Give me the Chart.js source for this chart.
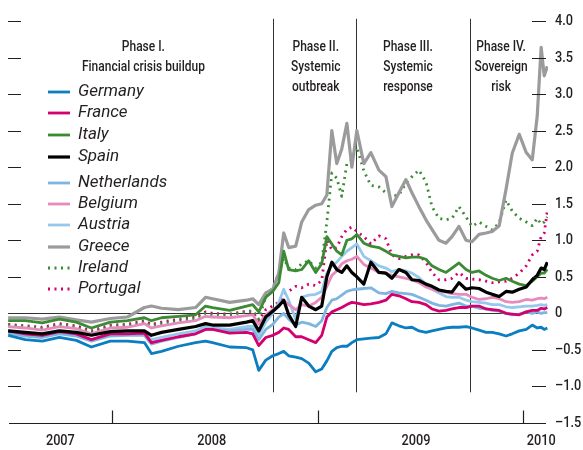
<!DOCTYPE html>
<html>
<head>
<meta charset="utf-8">
<script src="https://cdn.jsdelivr.net/npm/chart.js@4.4.1/dist/chart.umd.min.js"></script>
<style>
  html, body { margin: 0; padding: 0; background: #fff; }
</style>
</head>
<body>
<canvas id="chart" width="583" height="450"></canvas>
<script>
// x positions: months since 1 Jan 2007
const months = [5.91, 6.91, 7.90, 8.90, 9.89, 10.77, 11.88, 12.88, 13.87, 14.28, 14.87, 15.86, 16.86, 17.44, 17.85, 18.85, 19.84, 20.20, 20.55, 20.96,
  21.37, 21.72, 22.01, 22.30, 22.71, 23.06, 23.47, 23.88, 24.23, 24.53, 24.82, 25.11, 25.40, 25.70, 25.99, 26.28, 26.69, 27.10, 27.57, 27.98,
  28.33, 28.74, 29.15, 29.50, 29.91, 30.32, 30.67, 31.08, 31.49, 31.84, 32.25, 32.66, 33.01, 33.42, 33.83, 34.19, 34.60, 35.00, 35.36, 35.77,
  36.18, 36.53, 36.82, 37.05, 37.23, 37.41];

const germany = [-0.30, -0.36, -0.38, -0.33, -0.37, -0.46, -0.38, -0.38, -0.40, -0.55, -0.52, -0.45, -0.40, -0.38, -0.40, -0.46, -0.47, -0.50, -0.78, -0.64,
  -0.58, -0.55, -0.52, -0.58, -0.60, -0.62, -0.68, -0.80, -0.76, -0.65, -0.52, -0.47, -0.45, -0.45, -0.40, -0.36, -0.35, -0.34, -0.33, -0.28,
  -0.13, -0.17, -0.20, -0.19, -0.24, -0.26, -0.24, -0.22, -0.20, -0.19, -0.19, -0.18, -0.20, -0.23, -0.26, -0.26, -0.28, -0.31, -0.28, -0.24,
  -0.22, -0.16, -0.20, -0.19, -0.22, -0.20];
const france = [-0.24, -0.28, -0.30, -0.25, -0.28, -0.36, -0.28, -0.28, -0.27, -0.40, -0.37, -0.32, -0.28, -0.22, -0.22, -0.27, -0.26, -0.28, -0.44, -0.33,
  -0.30, -0.26, -0.20, -0.22, -0.32, -0.32, -0.36, -0.40, -0.30, -0.05, 0.02, 0.05, 0.08, 0.12, 0.15, 0.14, 0.12, 0.13, 0.15, 0.18,
  0.26, 0.24, 0.20, 0.16, 0.15, 0.12, 0.06, 0.03, 0.04, 0.06, 0.08, 0.08, 0.10, 0.10, 0.06, 0.05, 0.04, 0.00, -0.01, -0.02,
  0.02, 0.04, 0.04, 0.07, 0.06, 0.08];
const italy = [-0.10, -0.10, -0.13, -0.08, -0.12, -0.20, -0.12, -0.10, -0.06, -0.10, -0.06, -0.04, -0.02, 0.10, 0.08, 0.04, 0.10, 0.12, 0.02, 0.22,
  0.30, 0.42, 0.85, 0.60, 0.58, 0.60, 0.72, 0.56, 0.68, 1.05, 0.95, 0.85, 0.80, 1.00, 1.02, 1.08, 0.96, 0.92, 0.90, 0.85,
  0.80, 0.78, 0.76, 0.77, 0.77, 0.74, 0.65, 0.60, 0.56, 0.62, 0.69, 0.60, 0.56, 0.58, 0.52, 0.48, 0.45, 0.48, 0.44, 0.40,
  0.38, 0.44, 0.50, 0.55, 0.55, 0.60];
const spain = [-0.24, -0.26, -0.28, -0.24, -0.26, -0.30, -0.25, -0.24, -0.24, -0.30, -0.26, -0.22, -0.18, -0.14, -0.16, -0.16, -0.12, -0.10, -0.24, -0.05,
  0.03, 0.10, 0.18, -0.02, -0.18, 0.22, 0.10, 0.05, 0.10, 0.50, 0.70, 0.60, 0.56, 0.65, 0.56, 0.50, 0.40, 0.70, 0.56, 0.55,
  0.48, 0.60, 0.56, 0.46, 0.45, 0.40, 0.37, 0.32, 0.30, 0.29, 0.42, 0.33, 0.35, 0.34, 0.29, 0.26, 0.23, 0.30, 0.29, 0.33,
  0.36, 0.46, 0.52, 0.62, 0.60, 0.70];
const netherlands = [-0.27, -0.31, -0.33, -0.28, -0.31, -0.38, -0.31, -0.30, -0.30, -0.42, -0.38, -0.33, -0.28, -0.22, -0.22, -0.24, -0.22, -0.22, -0.36, -0.22,
  -0.15, -0.05, 0.00, -0.08, -0.16, -0.12, -0.14, -0.18, -0.10, 0.08, 0.18, 0.20, 0.25, 0.30, 0.32, 0.33, 0.34, 0.35, 0.28, 0.27,
  0.30, 0.28, 0.27, 0.26, 0.22, 0.18, 0.14, 0.11, 0.10, 0.12, 0.14, 0.10, 0.10, 0.07, 0.06, 0.04, 0.03, 0.00, -0.02, -0.01,
  0.02, 0.00, 0.02, 0.00, 0.01, 0.01];
const belgium = [-0.18, -0.20, -0.23, -0.18, -0.21, -0.28, -0.20, -0.19, -0.14, -0.20, -0.17, -0.13, -0.10, -0.04, -0.05, -0.06, -0.03, -0.02, -0.15, -0.02,
  0.05, 0.10, 0.18, 0.12, 0.05, 0.12, 0.10, 0.15, 0.22, 0.37, 0.52, 0.58, 0.68, 0.72, 0.74, 0.78, 0.67, 0.62, 0.56, 0.55,
  0.52, 0.50, 0.48, 0.46, 0.42, 0.36, 0.33, 0.30, 0.29, 0.27, 0.26, 0.26, 0.22, 0.19, 0.20, 0.22, 0.20, 0.16, 0.15, 0.16,
  0.19, 0.18, 0.20, 0.21, 0.20, 0.22];
const austria = [-0.26, -0.29, -0.31, -0.27, -0.29, -0.36, -0.29, -0.28, -0.26, -0.36, -0.33, -0.28, -0.24, -0.18, -0.20, -0.22, -0.18, -0.18, -0.30, -0.12,
  0.00, 0.15, 0.33, 0.18, -0.08, 0.22, 0.25, 0.26, 0.30, 0.55, 0.65, 0.70, 0.78, 0.85, 0.90, 0.95, 0.78, 0.72, 0.65, 0.62,
  0.57, 0.60, 0.58, 0.55, 0.49, 0.40, 0.33, 0.28, 0.23, 0.22, 0.22, 0.18, 0.16, 0.15, 0.14, 0.12, 0.12, 0.09, 0.08, 0.09,
  0.10, 0.10, 0.11, 0.12, 0.11, 0.12];
const greece = [-0.06, -0.06, -0.08, -0.05, -0.09, -0.12, -0.07, -0.05, 0.08, 0.10, 0.07, 0.05, 0.08, 0.22, 0.20, 0.15, 0.18, 0.20, 0.12, 0.28,
  0.33, 0.55, 1.10, 0.90, 0.92, 1.25, 1.42, 1.48, 1.50, 1.62, 2.50, 2.05, 2.25, 2.60, 2.00, 2.50, 2.05, 2.20, 1.96, 1.87,
  1.46, 1.65, 1.83, 1.65, 1.46, 1.28, 1.15, 1.00, 0.96, 1.05, 1.19, 1.00, 0.98, 1.08, 1.10, 1.12, 1.20, 1.70, 2.19, 2.45,
  2.20, 2.10, 2.70, 3.64, 3.25, 3.38];
const ireland = [-0.16, -0.18, -0.21, -0.16, -0.19, -0.26, -0.18, -0.17, -0.12, -0.17, -0.14, -0.10, -0.07, 0.00, -0.02, -0.02, 0.02, 0.04, -0.08, 0.23,
  0.35, 0.55, 0.75, 0.62, 0.60, 0.68, 0.72, 0.62, 0.70, 1.25, 1.92, 1.85, 1.60, 2.05, 2.10, 2.28, 1.95, 1.75, 1.73, 1.65,
  1.60, 1.62, 1.78, 1.87, 1.96, 1.80, 1.46, 1.30, 1.28, 1.30, 1.46, 1.32, 1.19, 1.25, 1.19, 1.14, 1.24, 1.55, 1.40, 1.30,
  1.25, 1.20, 1.30, 1.22, 1.25, 1.32];
const portugal = [-0.15, -0.17, -0.19, -0.14, -0.17, -0.24, -0.16, -0.15, -0.10, -0.15, -0.12, -0.08, -0.05, 0.02, 0.00, -0.01, 0.03, 0.02, -0.10, 0.05,
  0.10, 0.15, 0.25, 0.30, 0.37, 0.35, 0.40, 0.38, 0.45, 1.00, 0.87, 0.90, 1.05, 1.15, 1.18, 1.12, 1.05, 0.95, 1.06, 1.02,
  0.80, 0.75, 0.78, 0.80, 0.80, 0.70, 0.56, 0.46, 0.46, 0.48, 0.56, 0.48, 0.47, 0.46, 0.44, 0.42, 0.43, 0.44, 0.48, 0.55,
  0.65, 0.80, 0.85, 1.05, 1.10, 1.40];

const yTicks = [4.0, 3.5, 3.0, 2.5, 2.0, 1.5, 1.0, 0.5, 0, -0.5, -1.0, -1.5];
const yearBounds = [12, 24, 36];
const yearLabels = ['2007', '2008', '2009', '2010'];
const yearLabelAt = [8.96, 17.8, 29.74, 37.05];
const phaseStarts = [21.37, 26.22, 32.90];
const phaseTexts = [
  { at: 13.81, lines: ['Phase I.', 'Financial crisis buildup'] },
  { at: 23.88, lines: ['Phase II.', 'Systemic', 'outbreak'] },
  { at: 29.27, lines: ['Phase III.', 'Systemic', 'response'] },
  { at: 34.71, lines: ['Phase IV.', 'Sovereign', 'risk'] }
];

const series = [
  { label: 'Germany', data: germany, color: '#0b7dc1', width: 2.8, dash: [] },
  { label: 'France', data: france, color: '#d4006f', width: 2.8, dash: [] },
  { label: 'Italy', data: italy, color: '#3b8a34', width: 2.8, dash: [] },
  { label: 'Spain', data: spain, color: '#000000', width: 3.2, dash: [], order: 0 },
  { label: 'Netherlands', data: netherlands, color: '#7eb6e0', width: 2.8, dash: [] },
  { label: 'Belgium', data: belgium, color: '#e78bbd', width: 2.8, dash: [] },
  { label: 'Austria', data: austria, color: '#95c8ec', width: 2.8, dash: [] },
  { label: 'Greece', data: greece, color: '#9b9b9d', width: 3.2, dash: [] },
  { label: 'Ireland', data: ireland, color: '#3b8a34', width: 2.8, dash: [2, 4.5] },
  { label: 'Portugal', data: portugal, color: '#d4006f', width: 2.8, dash: [2, 4.5] }
];

const INK = '#231f20';

function narrowText(ctx, text, x, y, size, align, sx) {
  ctx.save();
  ctx.translate(x, y);
  ctx.scale(sx, 1);
  ctx.font = '500 ' + size + 'px Roboto, "Noto Sans", sans-serif';
  ctx.textAlign = align;
  ctx.textBaseline = 'middle';
  ctx.fillStyle = INK;
  ctx.fillText(text, 0, 0);
  ctx.restore();
}

const decor = {
  id: 'decor',
  beforeDatasetsDraw(chart) {
    const { ctx, chartArea: a, scales: { x, y } } = chart;
    ctx.save();
    ctx.strokeStyle = '#333333';
    ctx.lineWidth = 1;
    const y0 = Math.round(y.getPixelForValue(0)) + 0.5;
    ctx.beginPath();
    ctx.moveTo(a.left, y0);
    ctx.lineTo(a.right - 2, y0);
    ctx.stroke();
    phaseStarts.forEach(m => {
      const px = Math.round(x.getPixelForValue(m)) + 0.5;
      ctx.beginPath();
      ctx.moveTo(px, y.getPixelForValue(4.03));
      ctx.lineTo(px, y.getPixelForValue(-1.08));
      ctx.stroke();
    });
    ctx.restore();
  },
  afterDraw(chart) {
    const { ctx, chartArea: a, scales: { x, y } } = chart;
    ctx.save();
    ctx.strokeStyle = '#231f20';
    ctx.lineWidth = 1.2;

    // side tick dashes and right-hand labels
    yTicks.forEach(v => {
      const py = Math.round(y.getPixelForValue(v)) + 0.5;
      if (v !== 0 && v !== -1.5) {
        ctx.beginPath();
        ctx.moveTo(a.left, py); ctx.lineTo(a.left + 13, py);
        ctx.moveTo(a.right - 16, py); ctx.lineTo(a.right - 2, py);
        ctx.stroke();
      }
      const txt = v === 0 ? '0' : (v < 0 ? '\u2013' + Math.abs(v).toFixed(1) : v.toFixed(1));
      narrowText(ctx, txt, a.right + 7, py, 15, 'left', 0.85);
    });

    // bottom axis, year boundary ticks, year labels
    const yb = Math.round(a.bottom) + 0.5;
    ctx.beginPath();
    ctx.moveTo(a.left + 1, yb); ctx.lineTo(a.right - 2, yb);
    ctx.stroke();
    yearBounds.forEach(m => {
      const px = Math.round(x.getPixelForValue(m)) + 0.5;
      ctx.beginPath();
      ctx.moveTo(px, yb - 13); ctx.lineTo(px, yb);
      ctx.stroke();
    });
    yearLabels.forEach((t, i) => {
      narrowText(ctx, t, x.getPixelForValue(yearLabelAt[i]), a.bottom + 18, 15, 'center', 0.85);
    });

    // phase captions
    phaseTexts.forEach(p => {
      p.lines.forEach((t, i) => {
        narrowText(ctx, t, x.getPixelForValue(p.at), a.top + 26 + i * 20, 15, 'center', 0.8);
      });
    });

    // legend
    const rows = [92, 113, 135, 157, 183, 204, 225, 247, 268, 289];
    series.forEach((s, i) => {
      const ry = rows[i];
      ctx.save();
      ctx.strokeStyle = s.color;
      ctx.lineWidth = s.width;
      ctx.setLineDash(s.dash);
      ctx.beginPath();
      ctx.moveTo(48, ry); ctx.lineTo(70, ry);
      ctx.stroke();
      ctx.restore();
      ctx.font = 'italic 17px Roboto, "Noto Sans", sans-serif';
      ctx.fillStyle = INK;
      ctx.textAlign = 'left';
      ctx.textBaseline = 'middle';
      ctx.fillText(s.label, 78, ry);
    });
    ctx.restore();
  }
};

new Chart(document.getElementById('chart'), {
  type: 'line',
  data: {
    datasets: series.map(s => ({
      label: s.label,
      data: months.map((m, i) => ({ x: m, y: s.data[i] })),
      borderColor: s.color,
      borderWidth: s.width,
      borderDash: s.dash,
      borderJoinStyle: 'round',
      pointRadius: 0,
      tension: 0,
      fill: false,
      order: s.order === undefined ? 1 : s.order
    }))
  },
  options: {
    responsive: false,
    animation: false,
    events: [],
    layout: { padding: { left: 8, right: 35, top: 21, bottom: 27 } },
    plugins: { legend: { display: false }, tooltip: { enabled: false } },
    scales: {
      x: { type: 'linear', min: 5.9, max: 37.45, display: false },
      y: { type: 'linear', min: -1.5, max: 4.0, display: false }
    }
  },
  plugins: [decor]
});
</script>
</body>
</html>
